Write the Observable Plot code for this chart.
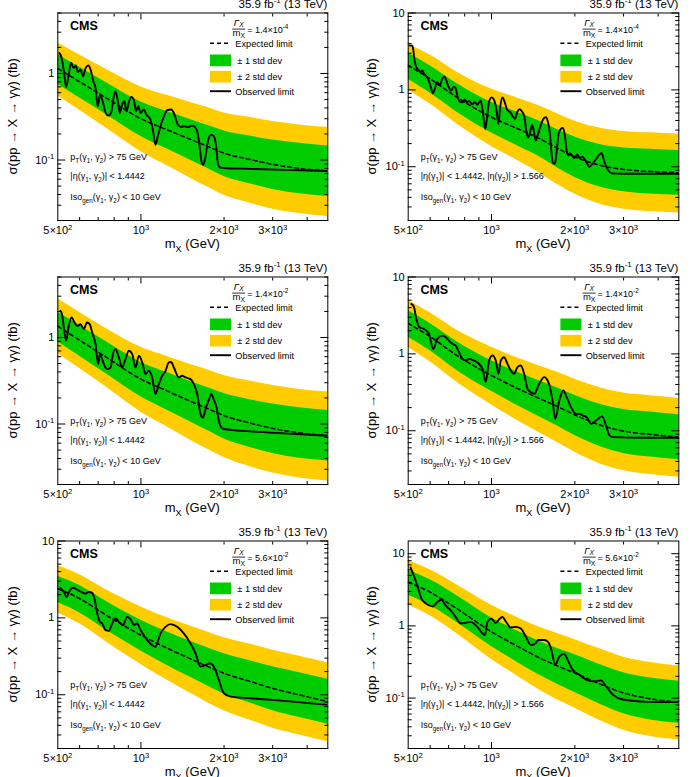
<!DOCTYPE html>
<html>
<head>
<meta charset="utf-8">
<script src="https://cdn.jsdelivr.net/npm/d3@7"></script>
<script src="https://cdn.jsdelivr.net/npm/@observablehq/plot@0.6"></script>
<style>
  html, body { margin: 0; padding: 0; background: #fff; }
  #page { position: relative; width: 690px; height: 777px; overflow: hidden;
          font-family: "Liberation Sans", Arial, Helvetica, sans-serif; }
  .panel { position: absolute; }
  .panel svg { overflow: visible; }
</style>
</head>
<body>
<div id="page"></div>
<script>
// Mass points (GeV) at which the expected limit and its bands are given
const massGrid = [500, 600, 750, 1000, 1250, 1500, 1750, 2000, 2500, 3000, 3750, 4750];

// Axis ticks and their labels
const xLabelTicks = [500, 1000, 2000, 3000];
const xLabelText = ["5×10^{2}", "10^{3}", "2×10^{3}", "3×10^{3}"];
const xMajorTicks = [1000];
const xMinorTicks = [600, 700, 800, 900, 2000, 3000, 4000];
const yMajorTicks = [0.1, 1, 10];
const yMajorText = ["10^{-1}", "1", "10"];
const yMinorTicks = [0.02, 0.03, 0.04, 0.05, 0.06, 0.07, 0.08, 0.09,
                     0.2, 0.3, 0.4, 0.5, 0.6, 0.7, 0.8, 0.9,
                     2, 3, 4, 5, 6, 7, 8, 9];

// Selection texts
const ptText = "p_{T}(γ_{1}, γ_{2}) > 75 GeV";
const etaBB = "|η(γ_{1}, γ_{2})| < 1.4442";
const etaBE = "|η(γ_{1})| < 1.4442, |η(γ_{2})| > 1.566";
const isoText = "Iso_{gen}(γ_{1}, γ_{2}) < 10 GeV";
const widths = ["1.4×10^{-4}", "1.4×10^{-4}", "1.4×10^{-2}", "1.4×10^{-2}", "5.6×10^{-2}", "5.6×10^{-2}"];
const legendText = ["Expected limit", "± 1 std dev", "± 2 std dev", "Observed limit"];

// Panel 1: Γ/m = 1.4e-4, EBEB
const p1Exp = [1.14, 0.80, 0.52, 0.30, 0.222, 0.175, 0.143, 0.120, 0.101, 0.089, 0.080, 0.0746];
const p1Hi1 = [1.65, 1.18, 0.78, 0.468, 0.362, 0.296, 0.250, 0.216, 0.188, 0.170, 0.156, 0.145];
const p1Lo1 = [0.75, 0.52, 0.333, 0.187, 0.133, 0.101, 0.0795, 0.0644, 0.0527, 0.0457, 0.0407, 0.038];
const p1Hi2 = [2.26, 1.63, 1.11, 0.70, 0.555, 0.466, 0.402, 0.349, 0.31, 0.278, 0.254, 0.237];
const p1Lo2 = [0.55, 0.376, 0.233, 0.1245, 0.085, 0.0625, 0.0483, 0.0391, 0.0315, 0.027, 0.0241, 0.0222];
const p1Obs = [[506,1.73],[516,1.52],[526,1.06],[536,0.70],[546,0.915],[559,1.33],[570,1.16],[581,1.24],[591,1.04],[604,1.11],[617,0.93],[631,1.16],[646,1.24],[657,1.11],[672,0.815],[685,0.68],[698,0.418],[710,0.556],[724,0.50],[742,0.366],[761,0.326],[780,0.35],[796,0.523],[809,0.624],[825,0.478],[839,0.35],[855,0.437],[872,0.478],[886,0.366],[906,0.478],[924,0.537],[942,0.50],[960,0.366],[977,0.418],[997,0.35],[1025,0.383],[1046,0.335],[1083,0.293],[1107,0.214],[1129,0.150],[1151,0.188],[1177,0.246],[1211,0.32],[1245,0.376],[1287,0.383],[1323,0.335],[1360,0.257],[1399,0.24],[1430,0.246],[1479,0.24],[1533,0.25],[1590,0.225],[1626,0.157],[1657,0.097],[1681,0.088],[1709,0.105],[1748,0.164],[1797,0.196],[1837,0.188],[1873,0.144],[1899,0.092],[1932,0.082],[1997,0.081],[2495,0.079],[3296,0.077],[4750,0.0746]];

// Panel 2: Γ/m = 1.4e-4, EBEE
const p2Exp = [2.08, 1.39, 0.80, 0.44, 0.31, 0.230, 0.170, 0.135, 0.103, 0.0923, 0.0869, 0.0835];
const p2Hi1 = [3.02, 2.06, 1.21, 0.686, 0.505, 0.389, 0.298, 0.243, 0.192, 0.176, 0.169, 0.163];
const p2Lo1 = [1.37, 0.908, 0.513, 0.275, 0.185, 0.133, 0.0945, 0.0725, 0.0538, 0.0474, 0.0442, 0.0425];
const p2Hi2 = [3.9, 2.84, 1.70, 1.025, 0.775, 0.612, 0.478, 0.392, 0.315, 0.288, 0.276, 0.266];
const p2Lo2 = [1.00, 0.653, 0.36, 0.183, 0.119, 0.0819, 0.0575, 0.0441, 0.0321, 0.0281, 0.0262, 0.025];
const p2Obs = [[506,3.79],[517,3.75],[522,3.26],[526,2.54],[535,1.98],[547,1.79],[556,1.70],[562,1.80],[570,1.62],[578,1.54],[590,1.39],[602,1.12],[614,0.905],[625,1.05],[636,1.26],[650,1.15],[664,1.39],[675,1.50],[690,1.26],[702,1.06],[715,0.98],[730,1.1],[742,1.05],[755,0.80],[770,0.70],[785,0.69],[800,0.75],[815,0.69],[830,0.72],[850,0.65],[870,0.69],[890,0.64],[910,0.73],[925,0.60],[940,0.38],[950,0.31],[962,0.42],[980,0.70],[1002,0.80],[1020,0.75],[1042,0.55],[1059,0.36],[1075,0.60],[1095,0.80],[1115,0.70],[1140,0.55],[1170,0.51],[1195,0.45],[1215,0.42],[1240,0.52],[1265,0.56],[1290,0.52],[1312,0.46],[1335,0.30],[1355,0.24],[1375,0.27],[1400,0.35],[1420,0.30],[1445,0.22],[1465,0.25],[1500,0.33],[1540,0.42],[1572,0.44],[1600,0.38],[1626,0.27],[1650,0.14],[1672,0.11],[1695,0.11],[1720,0.16],[1748,0.27],[1780,0.31],[1810,0.32],[1840,0.26],[1865,0.17],[1890,0.14],[1920,0.15],[1955,0.14],[1990,0.13],[2040,0.145],[2080,0.13],[2130,0.135],[2200,0.115],[2260,0.10],[2320,0.11],[2400,0.13],[2460,0.145],[2500,0.15],[2560,0.115],[2640,0.09],[2720,0.082],[3000,0.081],[4750,0.081]];

// Panel 3: Γ/m = 1.4e-2, EBEB
const p3Exp = [1.35, 0.93, 0.59, 0.33, 0.24, 0.185, 0.150, 0.125, 0.102, 0.089, 0.079, 0.0735];
const p3Hi1 = [1.96, 1.38, 0.891, 0.515, 0.391, 0.313, 0.263, 0.225, 0.190, 0.170, 0.154, 0.143];
const p3Lo1 = [0.89, 0.607, 0.378, 0.206, 0.143, 0.107, 0.0834, 0.0671, 0.0532, 0.0457, 0.0402, 0.0374];
const p3Hi2 = [2.8, 1.95, 1.26, 0.769, 0.60, 0.492, 0.422, 0.363, 0.312, 0.278, 0.251, 0.234];
const p3Lo2 = [0.651, 0.437, 0.266, 0.137, 0.0919, 0.0659, 0.0507, 0.0409, 0.0318, 0.0271, 0.0238, 0.022];
const p3Obs = [[511,2.03],[518,1.86],[526,1.30],[536,0.915],[548,1.36],[561,1.70],[575,1.49],[588,1.36],[604,1.42],[621,1.25],[638,1.49],[653,1.42],[666,1.14],[685,0.838],[700,0.492],[710,0.642],[734,0.492],[755,0.431],[776,0.45],[794,0.671],[809,0.733],[832,0.588],[855,0.45],[879,0.562],[904,0.702],[930,0.642],[956,0.45],[983,0.614],[1011,0.515],[1039,0.378],[1068,0.412],[1098,0.345],[1129,0.222],[1161,0.289],[1194,0.361],[1228,0.412],[1262,0.515],[1287,0.52],[1316,0.45],[1372,0.345],[1411,0.361],[1451,0.345],[1512,0.33],[1555,0.289],[1599,0.222],[1644,0.130],[1676,0.119],[1722,0.156],[1762,0.19],[1797,0.222],[1837,0.19],[1878,0.156],[1915,0.109],[1953,0.0915],[1997,0.0876],[2495,0.0823],[3296,0.078],[4750,0.0733]];

// Panel 4: Γ/m = 1.4e-2, EBEE
const p4Exp = [2.50, 1.68, 0.951, 0.523, 0.351, 0.26, 0.203, 0.161, 0.117, 0.099, 0.0896, 0.0828];
const p4Hi1 = [3.63, 2.49, 1.44, 0.816, 0.572, 0.439, 0.355, 0.290, 0.218, 0.189, 0.175, 0.161];
const p4Lo1 = [1.65, 1.10, 0.61, 0.326, 0.21, 0.15, 0.113, 0.0865, 0.0611, 0.0508, 0.0456, 0.0421];
const p4Hi2 = [4.95, 3.43, 2.03, 1.22, 0.878, 0.692, 0.570, 0.467, 0.358, 0.309, 0.285, 0.263];
const p4Lo2 = [1.21, 0.79, 0.428, 0.217, 0.134, 0.0926, 0.0686, 0.0526, 0.0365, 0.0301, 0.027, 0.0248];
const p4Obs = [[513,4.46],[524,4.12],[535,2.85],[549,2.22],[570,2.11],[594,1.82],[616,1.16],[637,1.57],[664,1.73],[683,1.65],[702,1.49],[722,1.35],[742,1.28],[763,1.05],[785,0.861],[807,0.819],[829,0.861],[865,0.819],[901,0.742],[932,0.607],[953,0.429],[980,0.819],[1008,0.951],[1036,0.819],[1060,0.55],[1080,0.819],[1110,0.905],[1142,0.742],[1174,0.607],[1207,0.55],[1241,0.671],[1276,0.706],[1312,0.55],[1349,0.351],[1387,0.318],[1426,0.302],[1487,0.408],[1551,0.498],[1595,0.45],[1626,0.369],[1661,0.248],[1700,0.143],[1758,0.248],[1817,0.334],[1869,0.274],[1937,0.203],[2020,0.166],[2077,0.166],[2136,0.158],[2208,0.15],[2290,0.123],[2387,0.136],[2509,0.154],[2594,0.117],[2668,0.087],[2743,0.0827],[3621,0.081],[4750,0.081]];

// Panel 5: Γ/m = 5.6e-2, EBEB
const p5Exp = [2.40, 1.78, 1.08, 0.596, 0.40, 0.297, 0.232, 0.19, 0.148, 0.121, 0.0995, 0.0815];
const p5Hi1 = [3.48, 2.63, 1.63, 0.93, 0.652, 0.502, 0.406, 0.342, 0.275, 0.231, 0.194, 0.159];
const p5Lo1 = [1.58, 1.16, 0.692, 0.372, 0.239, 0.171, 0.129, 0.102, 0.0773, 0.0621, 0.0506, 0.0415];
const p5Hi2 = [4.75, 3.63, 2.30, 1.39, 1.00, 0.79, 0.652, 0.551, 0.453, 0.378, 0.316, 0.259];
const p5Lo2 = [1.16, 0.837, 0.486, 0.247, 0.153, 0.106, 0.0784, 0.0621, 0.0462, 0.0368, 0.030, 0.0244];
const p5Obs = [[511,2.45],[526,2.17],[538,1.87],[553,2.28],[568,2.47],[588,2.33],[608,2.17],[630,2.07],[648,2.17],[666,2.11],[679,1.78],[695,1.14],[710,0.888],[724,0.845],[744,0.692],[765,0.678],[787,0.845],[809,0.98],[832,0.888],[862,0.804],[891,1.03],[922,0.933],[943,0.804],[969,0.845],[997,0.692],[1025,0.596],[1054,0.514],[1098,0.442],[1129,0.421],[1177,0.627],[1228,0.765],[1280,0.83],[1353,0.765],[1430,0.627],[1512,0.465],[1577,0.345],[1644,0.232],[1714,0.2435],[1777,0.256],[1838,0.232],[1915,0.156],[1997,0.1046],[2112,0.0947],[2500,0.09],[3300,0.0832],[4750,0.0738]];

// Panel 6: Γ/m = 5.6e-2, EBEE
const p6Exp = [4.02, 2.93, 1.73, 0.827, 0.515, 0.356, 0.2735, 0.2216, 0.1532, 0.1178, 0.0974, 0.0877];
const p6Hi1 = [5.83, 4.34, 2.61, 1.29, 0.839, 0.602, 0.479, 0.399, 0.285, 0.225, 0.19, 0.171];
const p6Lo1 = [2.65, 1.91, 1.11, 0.516, 0.307, 0.205, 0.152, 0.119, 0.080, 0.0604, 0.0496, 0.0446];
const p6Hi2 = [7.96, 5.98, 3.68, 1.93, 1.29, 0.947, 0.769, 0.643, 0.469, 0.368, 0.31, 0.279];
const p6Lo2 = [1.94, 1.38, 0.779, 0.343, 0.197, 0.127, 0.0924, 0.0725, 0.0478, 0.0358, 0.0293, 0.0262];
const p6Obs = [[510,6.46],[524,4.96],[539,3.62],[559,2.37],[578,2.05],[614,1.86],[637,2.14],[660,2.30],[683,1.92],[712,1.64],[742,1.33],[774,1.08],[806,1.10],[841,1.135],[889,0.969],[946,0.745],[967,1.135],[1000,1.26],[1036,1.1],[1071,1.26],[1095,1.33],[1126,1.15],[1174,0.95],[1224,0.969],[1276,0.919],[1331,0.706],[1387,0.543],[1430,0.56],[1479,0.636],[1551,0.636],[1600,0.6],[1640,0.488],[1700,0.288],[1758,0.375],[1832,0.408],[1884,0.338],[1964,0.246],[2077,0.21],[2196,0.1795],[2321,0.170],[2488,0.1757],[2594,0.1454],[2743,0.1117],[2981,0.0954],[3621,0.0886],[4750,0.0877]];

const panels = [
  {col: 0, row: 0, yDomain: [0.02, 5],  eta: etaBB, exp: p1Exp, lo1: p1Lo1, hi1: p1Hi1, lo2: p1Lo2, hi2: p1Hi2, obs: p1Obs},
  {col: 1, row: 0, yDomain: [0.02, 10], eta: etaBE, exp: p2Exp, lo1: p2Lo1, hi1: p2Hi1, lo2: p2Lo2, hi2: p2Hi2, obs: p2Obs},
  {col: 0, row: 1, yDomain: [0.02, 5],  eta: etaBB, exp: p3Exp, lo1: p3Lo1, hi1: p3Hi1, lo2: p3Lo2, hi2: p3Hi2, obs: p3Obs},
  {col: 1, row: 1, yDomain: [0.02, 10], eta: etaBE, exp: p4Exp, lo1: p4Lo1, hi1: p4Hi1, lo2: p4Lo2, hi2: p4Hi2, obs: p4Obs},
  {col: 0, row: 2, yDomain: [0.02, 10], eta: etaBB, exp: p5Exp, lo1: p5Lo1, hi1: p5Hi1, lo2: p5Lo2, hi2: p5Hi2, obs: p5Obs},
  {col: 1, row: 2, yDomain: [0.02, 15], eta: etaBE, exp: p6Exp, lo1: p6Lo1, hi1: p6Hi1, lo2: p6Lo2, hi2: p6Hi2, obs: p6Obs}
];

const GREEN = "#00cc00", YELLOW = "#ffcc00";
const FONT = "'Liberation Sans', Arial, Helvetica, sans-serif";
const SVGNS = "http://www.w3.org/2000/svg";

// Turn "a_{b}" / "a^{b}" markup inside a <text> into sub/superscript tspans
function fillRich(node, str, size, subDrop = 0.28) {
  node.textContent = "";
  const re = /([_^])\{([^}]*)\}/g;
  let last = 0, cur = 0, m;
  const add = (txt, off, fs) => {
    if (!txt) return;
    const ts = document.createElementNS(SVGNS, "tspan");
    ts.textContent = txt;
    const d = off - cur;
    if (d !== 0) ts.setAttribute("dy", d.toFixed(2));
    if (fs) ts.setAttribute("font-size", fs);
    node.appendChild(ts);
    cur = off;
  };
  while ((m = re.exec(str))) {
    add(str.slice(last, m.index), 0, null);
    const off = m[1] === "^" ? -0.42 * size : subDrop * size;
    add(m[2], off, (0.7 * size).toFixed(2));
    last = re.lastIndex;
  }
  add(str.slice(last), 0, null);
}

function richText(g, x, y, str, size, anchor = "start", attrs = {}, subDrop) {
  const t = g.append("text").attr("x", x).attr("y", y).attr("font-size", size)
    .attr("fill", "black").attr("text-anchor", anchor);
  for (const k in attrs) t.attr(k, attrs[k]);
  fillRich(t.node(), str, size, subDrop);
  return t;
}

const page = document.getElementById("page");
const rowFrameTops = [12.5, 276, 540.5];
const frameH = 207.5, svgW = 345, svgH = 264, mTop = 12.5;

panels.forEach((p, idx) => {
  const mL = p.col ? 62.7 : 57.3;
  const mR = p.col ? 11.7 : 17.7;
  const mB = svgH - mTop - frameH;
  const [y0, y1] = p.yDomain;
  const inY = v => v >= y0 && v <= y1;

  const bands = massGrid.map((m, i) => ({m, exp: p.exp[i], lo1: p.lo1[i], hi1: p.hi1[i], lo2: p.lo2[i], hi2: p.hi2[i]}));
  const yMaj = yMajorTicks.filter(inY);
  const yMin = yMinorTicks.filter(inY);

  const svg = Plot.plot({
    width: svgW, height: svgH,
    marginLeft: mL, marginRight: mR, marginTop: mTop, marginBottom: mB,
    style: {fontFamily: FONT, background: "transparent", color: "black", overflow: "visible"},
    x: {type: "log", domain: [500, 4750]},
    y: {type: "log", domain: p.yDomain},
    marks: [
      Plot.areaY(bands, {x: "m", y1: "lo2", y2: "hi2", fill: YELLOW, curve: "monotone-x", clip: true}),
      Plot.areaY(bands, {x: "m", y1: "lo1", y2: "hi1", fill: GREEN, curve: "monotone-x", clip: true}),
      Plot.lineY(bands, {x: "m", y: "exp", stroke: "black", strokeWidth: 1.5, strokeDasharray: "4,3", curve: "monotone-x", clip: true}),
      Plot.line(p.obs, {x: d => d[0], y: d => d[1], stroke: "black", strokeWidth: 1.9, curve: "monotone-x", clip: true}),
      Plot.frame({stroke: "black", strokeWidth: 1}),
      // inward ticks on all four sides
      Plot.axisX({anchor: "bottom", ticks: xMajorTicks, tickSize: -6, fill: "none", label: null}),
      Plot.axisX({anchor: "bottom", ticks: xMinorTicks, tickSize: -3, fill: "none", label: null}),
      Plot.axisX({anchor: "top", ticks: xMajorTicks, tickSize: -6, fill: "none", label: null}),
      Plot.axisX({anchor: "top", ticks: xMinorTicks, tickSize: -3, fill: "none", label: null}),
      Plot.axisY({anchor: "left", ticks: yMaj, tickSize: -8, fill: "none", label: null}),
      Plot.axisY({anchor: "left", ticks: yMin, tickSize: -4, fill: "none", label: null}),
      Plot.axisY({anchor: "right", ticks: yMaj, tickSize: -8, fill: "none", label: null}),
      Plot.axisY({anchor: "right", ticks: yMin, tickSize: -4, fill: "none", label: null}),
      // tick labels
      Plot.axisX({anchor: "bottom", ticks: xLabelTicks, tickSize: 0, tickPadding: 6, fontSize: 11,
                  tickFormat: d => xLabelText[xLabelTicks.indexOf(d)], label: null}),
      Plot.axisY({anchor: "left", ticks: yMaj, tickSize: 0, tickPadding: 3.5, fontSize: 11,
                  tickFormat: d => yMajorText[yMajorTicks.indexOf(d)], label: null})
    ]
  });

  const div = document.createElement("div");
  div.className = "panel";
  div.style.left = (p.col * 345) + "px";
  div.style.top = (rowFrameTops[p.row] - mTop) + "px";
  div.appendChild(svg);
  page.appendChild(div);

  const s = d3.select(svg);
  // tick labels with superscripts
  s.selectAll("text").each(function () {
    const t = this.textContent;
    if (/[_^]\{/.test(t)) fillRich(this, t, 11);
  });

  const fl = mL, ft = mTop, fr = svgW - mR, fb = mTop + frameH;
  const g = s.append("g").attr("font-family", FONT).attr("text-anchor", "start");

  // axis titles
  richText(g, (fl + fr) / 2, fb + 28, "m_{X} (GeV)", 13, "middle");
  const yt = p.col ? 31 : 17;
  g.append("text")
    .attr("transform", `translate(${yt},${(ft + fb) / 2}) rotate(-90)`)
    .attr("text-anchor", "middle").attr("font-size", 13).attr("fill", "black")
    .text("σ(pp → X → γγ) (fb)");

  // luminosity label
  richText(g, fr, ft - 5, "35.9 fb^{-1} (13 TeV)", 11.5, "end");

  // CMS label
  g.append("text").attr("x", fl + 12.7).attr("y", ft + 17.5).attr("text-anchor", "start")
    .attr("font-size", 12.5).attr("font-weight", "bold").attr("fill", "black").text("CMS");

  // width hypothesis as a fraction
  const fx = fl + 181.4;
  richText(g, fx, ft + 13, "Γ_{X}", 9.5, "middle", {"font-style": "italic"}, 0.2);
  g.append("line").attr("x1", fx - 6.5).attr("x2", fx + 6.5).attr("y1", ft + 16.6).attr("y2", ft + 16.6)
    .attr("stroke", "black").attr("stroke-width", 0.8);
  richText(g, fx, ft + 23.6, "m_{X}", 9.5, "middle", {}, 0.22);
  richText(g, fx + 8.5, ft + 20.4, "= " + widths[idx], 9, "start");

  // legend
  const lx0 = fl + 152.7, lx1 = fl + 173.7;
  g.append("line").attr("x1", lx0).attr("x2", lx1).attr("y1", ft + 30.7).attr("y2", ft + 30.7)
    .attr("stroke", "black").attr("stroke-width", 1.5).attr("stroke-dasharray", "4,3");
  g.append("rect").attr("x", lx0).attr("y", ft + 42).attr("width", lx1 - lx0).attr("height", 11.7).attr("fill", GREEN);
  g.append("rect").attr("x", lx0).attr("y", ft + 58.4).attr("width", lx1 - lx0).attr("height", 11.6).attr("fill", YELLOW);
  g.append("line").attr("x1", lx0).attr("x2", lx1).attr("y1", ft + 78.7).attr("y2", ft + 78.7)
    .attr("stroke", "black").attr("stroke-width", 1.9);
  const ly = [34, 51.5, 67, 82];
  const lxText = [178, 180, 180, 178];
  legendText.forEach((t, i) => {
    g.append("text").attr("x", fl + lxText[i]).attr("y", ft + ly[i]).attr("text-anchor", "start")
      .attr("font-size", 9.2).attr("fill", "black").text(t);
  });

  // selection summary
  const sel = [ptText, p.eta, isoText];
  const sy = [147.5, 166.5, 187.5];
  sel.forEach((t, i) => richText(g, fl + 13, ft + sy[i], t, 9, "start"));
});
</script>
</body>
</html>
